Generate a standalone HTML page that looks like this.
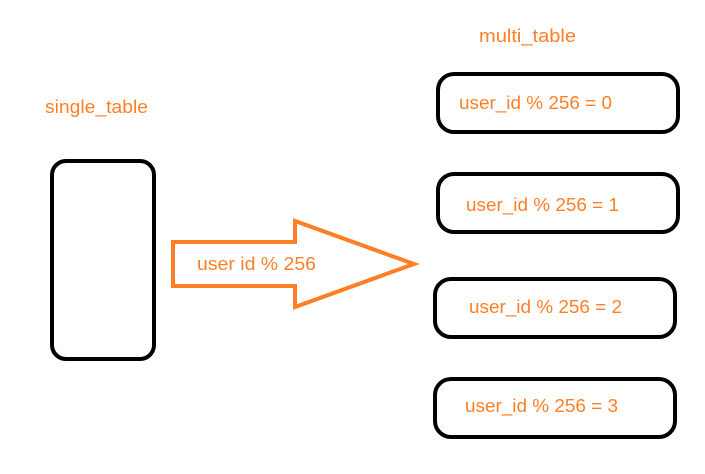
<!DOCTYPE html>
<html><head><style>
body{margin:0;background:#fff}
svg text{font-family:"Liberation Sans",sans-serif;font-size:18px;fill:#ff7f27}
</style></head><body>
<svg width="705" height="469" viewBox="0 0 705 469" xmlns="http://www.w3.org/2000/svg">
<g fill="none" stroke="#000" stroke-width="4">
<rect x="52" y="161" width="102" height="198" rx="14"/>
<rect x="438" y="74" width="240" height="58" rx="16"/>
<rect x="438" y="174" width="240" height="58" rx="16"/>
<rect x="435" y="279" width="240" height="58" rx="16"/>
<rect x="435" y="379" width="240" height="58" rx="16"/>
</g>
<polygon points="173,242 295,242 295,221 414,264 295,307 295,286 173,286" fill="none" stroke="#ff7f27" stroke-width="4" stroke-linejoin="miter"/>
<text x="479" y="42" textLength="97" lengthAdjust="spacingAndGlyphs">multi_table</text>
<text x="45" y="113" textLength="103" lengthAdjust="spacingAndGlyphs">single_table</text>
<text x="197" y="270" textLength="119" lengthAdjust="spacingAndGlyphs">user id % 256</text>
<text x="459" y="109" textLength="153" lengthAdjust="spacingAndGlyphs">user_id % 256 = 0</text>
<text x="466" y="211" textLength="153" lengthAdjust="spacingAndGlyphs">user_id % 256 = 1</text>
<text x="469" y="313" textLength="153" lengthAdjust="spacingAndGlyphs">user_id % 256 = 2</text>
<text x="465" y="412" textLength="153" lengthAdjust="spacingAndGlyphs">user_id % 256 = 3</text>
</svg>
</body></html>
